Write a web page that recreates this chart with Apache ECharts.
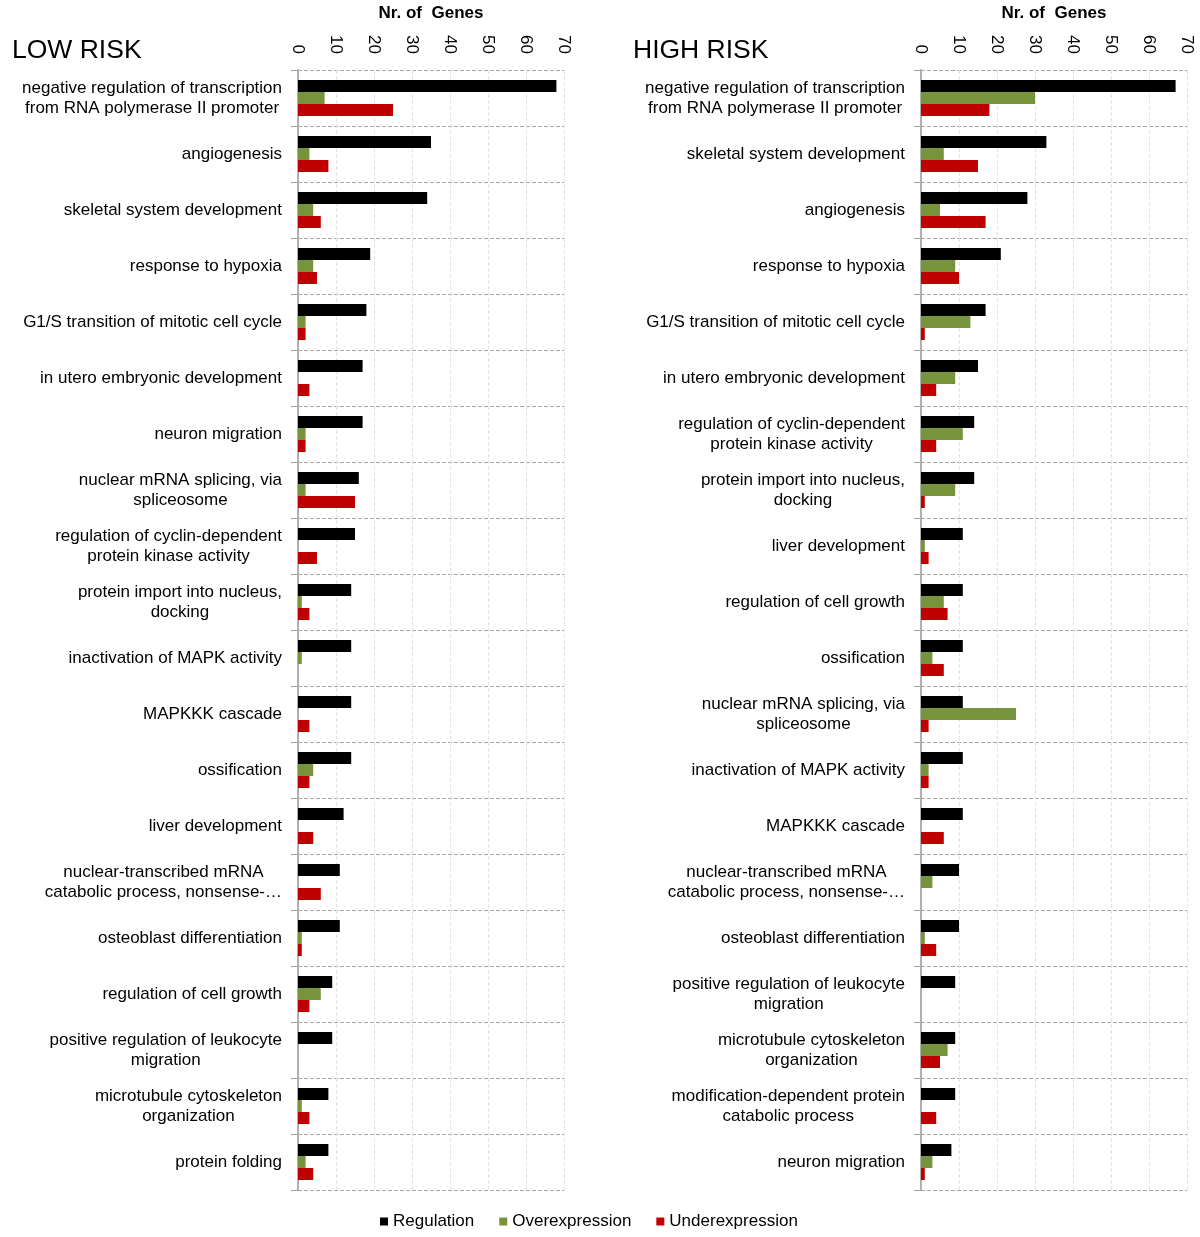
<!DOCTYPE html>
<html>
<head>
<meta charset="utf-8">
<script src="https://cdn.jsdelivr.net/npm/echarts@6/dist/echarts.min.js"></script>
<style>html,body{margin:0;padding:0;background:#fff}#c{width:1200px;height:1237px}</style>
</head>
<body>
<div id="c"></div>
<script>
const lowCategories = [
  "negative regulation of transcription\nfrom RNA polymerase II promoter",
  "angiogenesis",
  "skeletal system development",
  "response to hypoxia",
  "G1/S transition of mitotic cell cycle",
  "in utero embryonic development",
  "neuron migration",
  "nuclear mRNA splicing, via\nspliceosome",
  "regulation of cyclin-dependent\nprotein kinase activity",
  "protein import into nucleus,\ndocking",
  "inactivation of MAPK activity",
  "MAPKKK cascade",
  "ossification",
  "liver development",
  "nuclear-transcribed mRNA\ncatabolic process, nonsense-…",
  "osteoblast differentiation",
  "regulation of cell growth",
  "positive regulation of leukocyte\nmigration",
  "microtubule cytoskeleton\norganization",
  "protein folding"
];
const lowRegulation     = [68,35,34,19,18,17,17,16,15,14,14,14,14,12,11,11,9,9,8,8];
const lowOverexpression = [7,3,4,4,2,0,2,2,0,1,1,0,4,0,0,1,6,0,1,2];
const lowUnderexpression= [25,8,6,5,2,3,2,15,5,3,0,3,3,4,6,1,3,0,3,4];

const highCategories = [
  "negative regulation of transcription\nfrom RNA polymerase II promoter",
  "skeletal system development",
  "angiogenesis",
  "response to hypoxia",
  "G1/S transition of mitotic cell cycle",
  "in utero embryonic development",
  "regulation of cyclin-dependent\nprotein kinase activity",
  "protein import into nucleus,\ndocking",
  "liver development",
  "regulation of cell growth",
  "ossification",
  "nuclear mRNA splicing, via\nspliceosome",
  "inactivation of MAPK activity",
  "MAPKKK cascade",
  "nuclear-transcribed mRNA\ncatabolic process, nonsense-…",
  "osteoblast differentiation",
  "positive regulation of leukocyte\nmigration",
  "microtubule cytoskeleton\norganization",
  "modification-dependent protein\ncatabolic process",
  "neuron migration"
];
const highRegulation     = [67,33,28,21,17,15,14,14,11,11,11,11,11,11,10,10,9,9,9,8];
const highOverexpression = [30,6,5,9,13,9,11,9,1,6,3,25,2,0,3,1,0,7,0,3];
const highUnderexpression= [18,15,17,10,1,4,4,1,2,7,6,2,2,6,0,4,0,5,4,1];

const seriesNames = ["Regulation","Overexpression","Underexpression"];
const colors = ["#000000","#77933C","#C00000"];
const xTicks = {min:0, max:70, interval:10};

const FONT = "Liberation Sans, Arial, sans-serif";
const chart = echarts.init(document.getElementById('c'), null, {renderer:'canvas'});

function xAxisDef(gi){
  return {
    gridIndex: gi, type:'value', position:'top',
    min: xTicks.min, max: xTicks.max, interval: xTicks.interval,
    name: 'Nr. of  Genes', nameLocation:'middle', nameGap: 48,
    nameTextStyle:{fontFamily:FONT, fontSize:17, fontWeight:'bold', color:'#000'},
    axisLine:{show:false}, axisTick:{show:false},
    axisLabel:{rotate:90, fontFamily:FONT, fontSize:17, color:'#000', margin:16},
    splitLine:{show:true, lineStyle:{color:'#e4e4e4', type:'dashed', width:1}}
  };
}
function yAxisDef(gi, cats){
  return {
    gridIndex: gi, type:'category', inverse:true, data: cats,
    axisLine:{show:true, lineStyle:{color:'#b0b0b0', width:2}},
    axisTick:{show:true, length:7, lineStyle:{color:'#a0a0a0'}},
    splitLine:{show:true, lineStyle:{color:'#a8a8a8', type:'dashed', width:1}},
    axisLabel:{
      fontFamily:FONT, fontSize:17, color:'#000', margin:16, lineHeight:20,
      formatter: v => v.split('\n').map(l => '{c|' + l + '}').join('\n'),
      rich:{c:{align:'center', fontFamily:FONT, fontSize:17, lineHeight:20, color:'#000'}}
    }
  };
}
function barSeries(gi, data, i){
  return {
    name: seriesNames[i], type:'bar', xAxisIndex:gi, yAxisIndex:gi,
    data: data, barWidth:12, barGap:'0%',
    itemStyle:{color:colors[i]}, animation:false
  };
}

chart.setOption({
  animation:false,
  color: colors,
  textStyle:{fontFamily:FONT},
  title:[
    {text:'LOW RISK', left:7, top:32, textStyle:{fontFamily:FONT, fontSize:26.5, fontWeight:'normal', color:'#000'}},
    {text:'HIGH RISK', left:628, top:32, textStyle:{fontFamily:FONT, fontSize:26.5, fontWeight:'normal', color:'#000'}}
  ],
  legend:{
    data: seriesNames, left:375, top:1208, itemWidth:8, itemHeight:8, itemGap:25,
    icon:'rect',
    textStyle:{fontFamily:FONT, fontSize:17, color:'#000'}
  },
  grid:[
    {left:298, top:68, width:266, height:1122},
    {left:921, top:68, width:266, height:1122}
  ],
  xAxis:[xAxisDef(0), xAxisDef(1)],
  yAxis:[yAxisDef(0, lowCategories), yAxisDef(1, highCategories)],
  series:[
    barSeries(0, lowRegulation, 0),
    barSeries(0, lowOverexpression, 1),
    barSeries(0, lowUnderexpression, 2),
    barSeries(1, highRegulation, 0),
    barSeries(1, highOverexpression, 1),
    barSeries(1, highUnderexpression, 2)
  ]
});
</script>
</body>
</html>
